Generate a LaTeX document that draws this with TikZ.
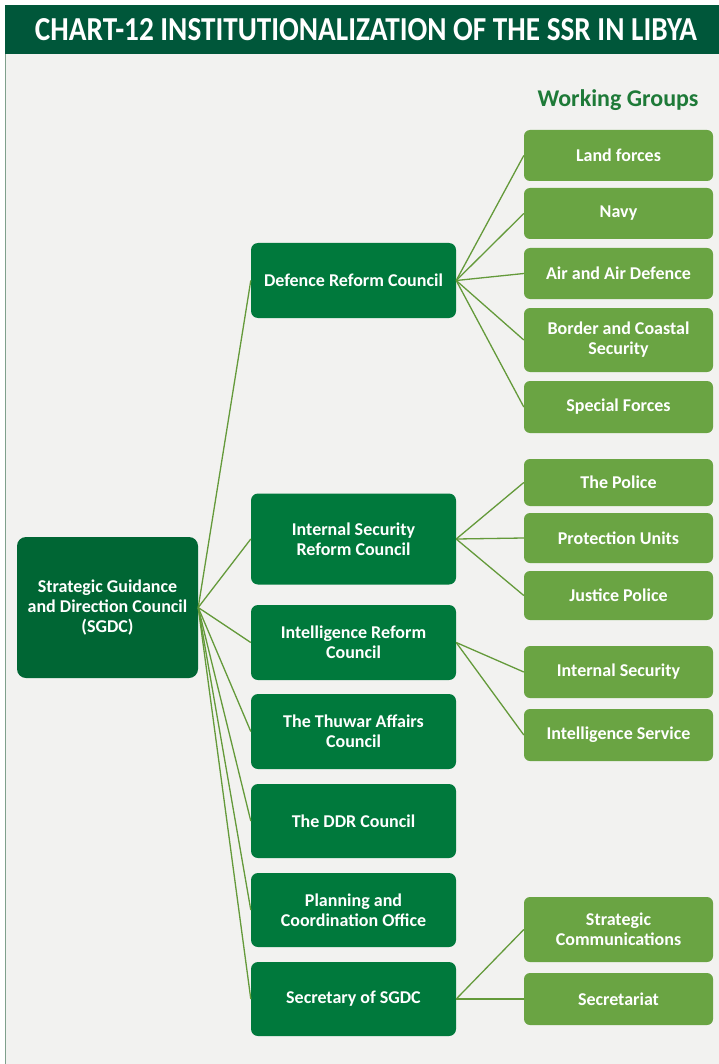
\documentclass[tikz,border=0pt]{standalone}
\usepackage{fontspec}
\setmainfont{Carlito}
\usepackage{xcolor}
\usepackage{tikz}
\usetikzlibrary{shapes,positioning}

\definecolor{headgreen}{HTML}{00573A}
\definecolor{sgdcgreen}{HTML}{006634}
\definecolor{midgreen}{HTML}{00793C}
\definecolor{leafgreen}{HTML}{6AA443}
\definecolor{linegreen}{HTML}{649A3A}
\definecolor{panelgray}{HTML}{F2F2F0}
\definecolor{edgegray}{HTML}{7FA08C}
\definecolor{titlegreen}{HTML}{1E7A38}

\begin{document}
\begin{tikzpicture}[x=1pt, y=-1pt, font=\bfseries\fontsize{18}{20}\selectfont]
\tikzstyle{header} = [rectangle, fill=headgreen, text=white, inner sep=0pt]
\tikzstyle{top} = [rectangle, fill=sgdcgreen, text=white, rounded corners=9pt, minimum width=181pt, minimum height=141pt, align=center, inner sep=0pt]
\tikzstyle{council} = [rectangle, fill=midgreen, text=white, rounded corners=7pt, minimum width=205pt, minimum height=75pt, align=center, inner sep=0pt]
\tikzstyle{group} = [rectangle, fill=leafgreen, text=white, rounded corners=6pt, minimum width=189pt, minimum height=51pt, align=center, inner sep=0pt]
\tikzstyle{link} = [draw=linegreen, line width=1.3pt]

\useasboundingbox (0,0) rectangle (719,1064);
\fill [panelgray] (5,54) rectangle (719,1064);
\draw [edgegray, line width=1pt] (5.5,54) -- (5.5,1064);

% title bar
\node [header, minimum width=714pt, minimum height=49pt] (bar) at (362,29.5) {};
\node [text=white, inner sep=0pt] (title) at (366,30) {\resizebox{662pt}{22pt}{CHART-12 INSTITUTIONALIZATION OF THE SSR IN LIBYA}};
\node [text=titlegreen, font=\bfseries\fontsize{24}{28}\selectfont] (wg) at (618,100) {Working Groups};

% councils
\node [top] (sgdc) at (107.5,607.5) {Strategic Guidance\\and Direction Council\\(SGDC)};
\node [council] (defence) at (353.5,280.5) {Defence Reform Council};
\node [council, minimum height=91pt] (internal) at (353.5,539) {Internal Security\\Reform Council};
\node [council] (intel) at (353.5,642.5) {Intelligence Reform\\Council};
\node [council] (thuwar) at (353.5,731.5) {The Thuwar Affairs\\Council};
\node [council, minimum height=74pt] (ddr) at (353.5,821) {The DDR Council};
\node [council, minimum height=74pt] (planning) at (353.5,910) {Planning and\\Coordination Office};
\node [council, minimum height=74pt] (secretary) at (353.5,999) {Secretary of SGDC};

% working groups
\node [group] (land) at (618.5,155.5) {Land forces};
\node [group] (navy) at (618.5,213.5) {Navy};
\node [group] (air) at (618.5,273.5) {Air and Air Defence};
\node [group, minimum height=64pt] (border) at (618.5,340) {Border and Coastal\\Security};
\node [group, minimum height=52pt] (special) at (618.5,407) {Special Forces};
\node [group, minimum height=47pt] (police) at (618.5,482.5) {The Police};
\node [group, minimum height=50pt] (protection) at (618.5,538) {Protection Units};
\node [group, minimum height=49pt] (justice) at (618.5,595.5) {Justice Police};
\node [group, minimum height=52pt] (intsec) at (618.5,672) {Internal Security};
\node [group, minimum height=52pt] (intserv) at (618.5,735) {Intelligence Service};
\node [group, minimum height=65pt] (stratcomm) at (618.5,929.5) {Strategic\\Communications};
\node [group, minimum height=52pt] (secretariat) at (618.5,999) {Secretariat};

% links
\draw [link] (sgdc.east) -- (defence.west);
\draw [link] (sgdc.east) -- (internal.west);
\draw [link] (sgdc.east) -- (intel.west);
\draw [link] (sgdc.east) -- (thuwar.west);
\draw [link] (sgdc.east) -- (ddr.west);
\draw [link] (sgdc.east) -- (planning.west);
\draw [link] (sgdc.east) -- (secretary.west);

\draw [link] (defence.east) -- (land.west);
\draw [link] (defence.east) -- (navy.west);
\draw [link] (defence.east) -- (air.west);
\draw [link] (defence.east) -- (border.west);
\draw [link] (defence.east) -- (special.west);
\draw [link] (internal.east) -- (police.west);
\draw [link] (internal.east) -- (protection.west);
\draw [link] (internal.east) -- (justice.west);
\draw [link] (intel.east) -- (intsec.west);
\draw [link] (intel.east) -- (intserv.west);
\draw [link] (secretary.east) -- (stratcomm.west);
\draw [link] (secretary.east) -- (secretariat.west);

\end{tikzpicture}
\end{document}
